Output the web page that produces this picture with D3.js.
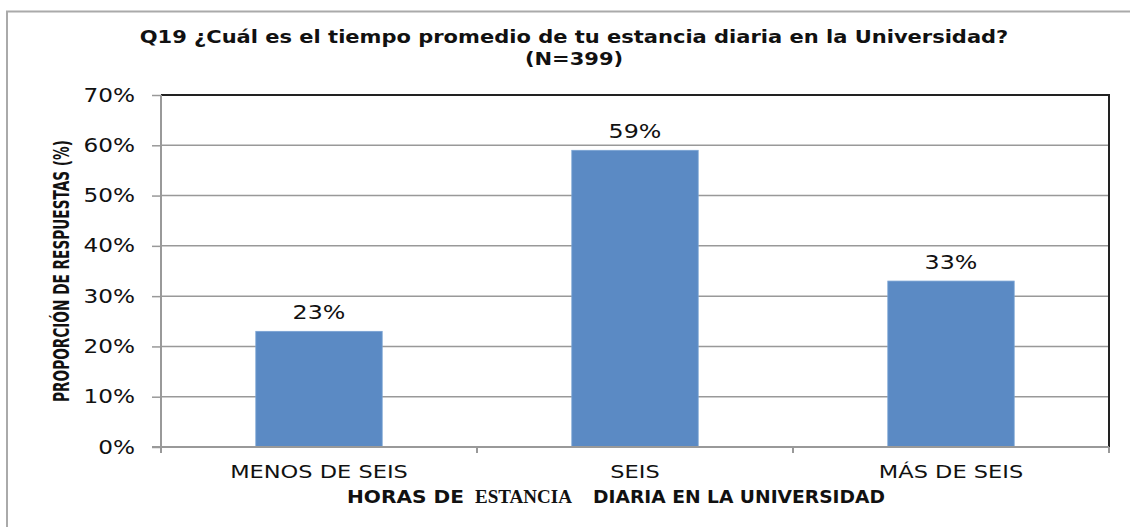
<!DOCTYPE html>
<html><head><meta charset="utf-8">
<script src="https://cdn.jsdelivr.net/npm/d3@7"></script>
<style>body{margin:0;background:#fff}svg{display:block}</style>
</head><body>
<svg id="chart" width="1130" height="527"></svg>
<script>
const categories = ["MENOS DE SEIS", "SEIS", "MÁS DE SEIS"];
const values = [23, 59, 33];
const yTicks = [0, 10, 20, 30, 40, 50, 60, 70];
const titleLines = ["Q19 ¿Cuál es el tiempo promedio de tu estancia diaria en la Universidad?", "(N=399)"];
const yTitle = "PROPORCIÓN DE RESPUESTAS (%)";

const svg = d3.select("#chart");
const m = {l:161, t:95, r:1109, b:447};
const stretch = (sel, f) => sel.each(function(){
  const w = this.getComputedTextLength();
  d3.select(this).attr("textLength", w*f).attr("lengthAdjust","spacingAndGlyphs");
});

// outer border
svg.append("path").attr("d","M7,527 V11.5 H1130").attr("fill","none").attr("stroke","#aaa").attr("stroke-width",2);

const x = d3.scaleBand().domain(categories).range([m.l, m.r]).padding(0);
const y = d3.scaleLinear().domain([0,70]).range([m.b, m.t]);

// gridlines
svg.append("g").selectAll("line").data(yTicks.filter(d=>d>0 && d<70)).join("line")
  .attr("x1",m.l).attr("x2",m.r).attr("y1",d=>y(d)).attr("y2",d=>y(d))
  .attr("stroke","#999").attr("stroke-width",1.5);
// plot top/right border
svg.append("path").attr("d",`M${m.l},${y(70)} H${m.r} V${m.b}`).attr("fill","none").attr("stroke","#222").attr("stroke-width",2);

// bars
const bw = x.bandwidth()*0.4;
svg.append("g").selectAll("rect").data(values).join("rect")
  .attr("x",(d,i)=>x(categories[i])+x.bandwidth()/2-bw/2)
  .attr("y",d=>y(d)).attr("width",bw).attr("height",d=>y(0)-y(d))
  .attr("fill","#5b8ac4").attr("stroke","#7aa3d4").attr("stroke-width",0.8);

// data labels
svg.append("g").selectAll("text").data(values).join("text")
  .attr("x",(d,i)=>x(categories[i])+x.bandwidth()/2)
  .attr("y",d=>y(d)-12).attr("text-anchor","middle")
  .attr("font-family","DejaVu Sans, Verdana, sans-serif").attr("font-size",19).attr("fill","#111")
  .text(d=>d+"%").call(stretch,1.25);

// y axis
const yAxis = d3.axisLeft(y).tickValues(yTicks).tickFormat(d=>d+"%").tickSize(9).tickPadding(17);
const ga = svg.append("g").attr("transform",`translate(${m.l},0)`).call(yAxis);
ga.select(".domain").attr("d",`M0,${y(70)}V${m.b+5}`).attr("stroke","#999").attr("stroke-width",2);
ga.selectAll(".tick line").attr("stroke","#999").attr("stroke-width",1.5);
ga.selectAll("text").attr("font-family","DejaVu Sans, Verdana, sans-serif").attr("font-size",19).attr("fill","#111")
  .call(stretch,1.22);

// x axis
const xAxis = d3.axisBottom(x).tickSize(0).tickPadding(18);
const gx = svg.append("g").attr("transform",`translate(0,${m.b})`).call(xAxis);
gx.select(".domain").attr("d",`M${m.l-9},0H${m.r}`).attr("stroke","#999").attr("stroke-width",2);
gx.selectAll("text").attr("font-family","DejaVu Sans, Verdana, sans-serif").attr("font-size",18).attr("fill","#111")
  .call(stretch,1.25);
// category boundary ticks
const bounds = categories.map(c=>x(c)).concat([m.r]);
gx.append("g").selectAll("line").data(bounds).join("line")
  .attr("x1",d=>d).attr("x2",d=>d).attr("y1",0).attr("y2",6).attr("stroke","#999").attr("stroke-width",2);

// title
const tt = svg.append("g").selectAll("text").data(titleLines).join("text")
  .attr("x",574).attr("y",(d,i)=>43+i*22).attr("text-anchor","middle")
  .attr("font-family","DejaVu Sans, Verdana, sans-serif").attr("font-weight","bold").attr("font-size",17.5).attr("fill","#111")
  .text(d=>d).call(stretch,1.2);

// y title
svg.append("text").attr("transform","translate(69,271) rotate(-90)").attr("text-anchor","middle")
  .attr("font-family","Liberation Sans Narrow, DejaVu Sans Condensed, sans-serif").attr("font-weight","bold").attr("font-size",21).attr("fill","#111")
  .attr("textLength",262).attr("lengthAdjust","spacingAndGlyphs")
  .text(yTitle);

// x title (mixed fonts)
const xt = svg.append("text").attr("y",503).attr("fill","#111").attr("font-size",17);
xt.append("tspan").attr("x",347).attr("font-family","DejaVu Sans, Verdana, sans-serif").attr("font-weight","bold")
  .attr("textLength",117).attr("lengthAdjust","spacingAndGlyphs").text("HORAS DE");
xt.append("tspan").attr("x",475).attr("font-family","Liberation Serif, Times New Roman, serif").attr("font-weight","bold").attr("font-size",19)
  .attr("textLength",97).attr("lengthAdjust","spacingAndGlyphs").text("ESTANCIA");
xt.append("tspan").attr("x",593).attr("font-family","DejaVu Sans, Verdana, sans-serif").attr("font-weight","bold")
  .attr("textLength",292).attr("lengthAdjust","spacingAndGlyphs").text("DIARIA EN LA UNIVERSIDAD");
</script>
</body></html>
